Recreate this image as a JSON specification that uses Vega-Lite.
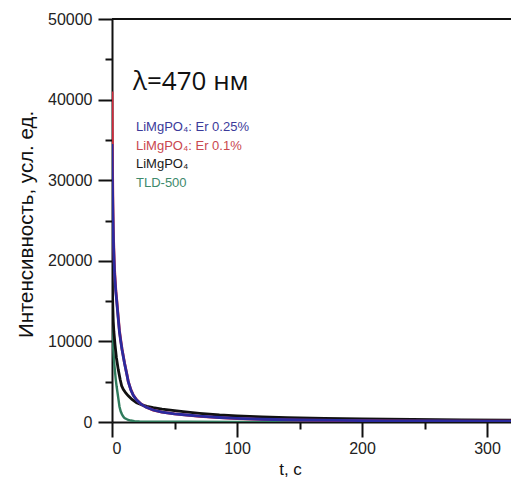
{
  "$schema": "https://vega.github.io/schema/vega-lite/v6.json",
  "autosize": {"type": "none"},
  "padding": {"left": 112, "top": 19, "right": 0, "bottom": 55},
  "width": 399,
  "height": 403,
  "background": "white",
  "config": {"view": {"stroke": null}, "font": "Liberation Sans"},
  "datasets": {
    "curves": [
      {"s": "er025", "t": 0, "v": 34500}, {"s": "er025", "t": 0.3, "v": 30000}, {"s": "er025", "t": 0.7, "v": 26000}, {"s": "er025", "t": 1.2, "v": 22000}, {"s": "er025", "t": 2, "v": 18500}, {"s": "er025", "t": 3, "v": 16200}, {"s": "er025", "t": 3.7, "v": 15100}, {"s": "er025", "t": 5, "v": 12800}, {"s": "er025", "t": 6, "v": 11100}, {"s": "er025", "t": 7, "v": 10000}, {"s": "er025", "t": 8, "v": 9000}, {"s": "er025", "t": 10, "v": 7300}, {"s": "er025", "t": 12, "v": 5800}, {"s": "er025", "t": 13, "v": 5000}, {"s": "er025", "t": 15, "v": 4000}, {"s": "er025", "t": 17, "v": 3300}, {"s": "er025", "t": 19.7, "v": 2730}, {"s": "er025", "t": 23, "v": 2250}, {"s": "er025", "t": 27, "v": 1850}, {"s": "er025", "t": 33, "v": 1490}, {"s": "er025", "t": 40, "v": 1230}, {"s": "er025", "t": 50, "v": 1020}, {"s": "er025", "t": 60, "v": 870}, {"s": "er025", "t": 70, "v": 720}, {"s": "er025", "t": 86, "v": 560}, {"s": "er025", "t": 100, "v": 450}, {"s": "er025", "t": 120, "v": 340}, {"s": "er025", "t": 150, "v": 250}, {"s": "er025", "t": 180, "v": 195}, {"s": "er025", "t": 220, "v": 150}, {"s": "er025", "t": 260, "v": 125}, {"s": "er025", "t": 300, "v": 105}, {"s": "er025", "t": 320, "v": 100},
      {"s": "er01", "t": 0, "v": 41000}, {"s": "er01", "t": 0.2, "v": 36000}, {"s": "er01", "t": 0.45, "v": 31000}, {"s": "er01", "t": 0.75, "v": 27000}, {"s": "er01", "t": 1.2, "v": 22800}, {"s": "er01", "t": 2, "v": 19000}, {"s": "er01", "t": 3, "v": 16500}, {"s": "er01", "t": 3.7, "v": 15300}, {"s": "er01", "t": 5, "v": 13000}, {"s": "er01", "t": 6, "v": 11300}, {"s": "er01", "t": 7, "v": 10150}, {"s": "er01", "t": 8, "v": 9100}, {"s": "er01", "t": 10, "v": 7350}, {"s": "er01", "t": 12, "v": 5850}, {"s": "er01", "t": 13, "v": 5050}, {"s": "er01", "t": 15, "v": 4050}, {"s": "er01", "t": 17, "v": 3330}, {"s": "er01", "t": 19.7, "v": 2750}, {"s": "er01", "t": 23, "v": 2260}, {"s": "er01", "t": 27, "v": 1850}, {"s": "er01", "t": 33, "v": 1480}, {"s": "er01", "t": 40, "v": 1220}, {"s": "er01", "t": 50, "v": 1000}, {"s": "er01", "t": 60, "v": 850}, {"s": "er01", "t": 70, "v": 700}, {"s": "er01", "t": 86, "v": 540}, {"s": "er01", "t": 100, "v": 430}, {"s": "er01", "t": 120, "v": 325}, {"s": "er01", "t": 150, "v": 240}, {"s": "er01", "t": 180, "v": 185}, {"s": "er01", "t": 220, "v": 140}, {"s": "er01", "t": 260, "v": 115}, {"s": "er01", "t": 300, "v": 95}, {"s": "er01", "t": 320, "v": 90},
      {"s": "pure", "t": 0, "v": 20500}, {"s": "pure", "t": 0.3, "v": 17000}, {"s": "pure", "t": 0.6, "v": 14500}, {"s": "pure", "t": 1, "v": 12500}, {"s": "pure", "t": 1.5, "v": 11200}, {"s": "pure", "t": 2.4, "v": 9600}, {"s": "pure", "t": 3.5, "v": 8000}, {"s": "pure", "t": 5, "v": 6500}, {"s": "pure", "t": 6.5, "v": 5300}, {"s": "pure", "t": 7.7, "v": 4500}, {"s": "pure", "t": 9, "v": 4050}, {"s": "pure", "t": 11, "v": 3600}, {"s": "pure", "t": 13, "v": 3250}, {"s": "pure", "t": 16, "v": 2800}, {"s": "pure", "t": 19.7, "v": 2400}, {"s": "pure", "t": 24, "v": 2120}, {"s": "pure", "t": 28, "v": 1950}, {"s": "pure", "t": 33, "v": 1790}, {"s": "pure", "t": 40, "v": 1600}, {"s": "pure", "t": 50, "v": 1410}, {"s": "pure", "t": 57, "v": 1280}, {"s": "pure", "t": 70, "v": 1080}, {"s": "pure", "t": 86, "v": 870}, {"s": "pure", "t": 100, "v": 760}, {"s": "pure", "t": 120, "v": 640}, {"s": "pure", "t": 140, "v": 550}, {"s": "pure", "t": 170, "v": 450}, {"s": "pure", "t": 200, "v": 370}, {"s": "pure", "t": 240, "v": 310}, {"s": "pure", "t": 280, "v": 260}, {"s": "pure", "t": 320, "v": 220},
      {"s": "tld", "t": 0, "v": 12500}, {"s": "tld", "t": 0.3, "v": 11000}, {"s": "tld", "t": 0.6, "v": 10000}, {"s": "tld", "t": 1, "v": 9000}, {"s": "tld", "t": 1.5, "v": 7900}, {"s": "tld", "t": 2, "v": 6900}, {"s": "tld", "t": 2.5, "v": 6100}, {"s": "tld", "t": 3, "v": 5300}, {"s": "tld", "t": 3.7, "v": 4400}, {"s": "tld", "t": 5, "v": 3000}, {"s": "tld", "t": 6, "v": 1900}, {"s": "tld", "t": 7, "v": 1300}, {"s": "tld", "t": 8, "v": 950}, {"s": "tld", "t": 9, "v": 680}, {"s": "tld", "t": 10, "v": 500}, {"s": "tld", "t": 11.5, "v": 370}, {"s": "tld", "t": 13, "v": 260}, {"s": "tld", "t": 15, "v": 180}, {"s": "tld", "t": 18, "v": 110}, {"s": "tld", "t": 22, "v": 70}, {"s": "tld", "t": 28, "v": 50}, {"s": "tld", "t": 40, "v": 35}, {"s": "tld", "t": 60, "v": 25}, {"s": "tld", "t": 100, "v": 20}, {"s": "tld", "t": 200, "v": 15}, {"s": "tld", "t": 320, "v": 10}
    ],
    "labels": [
      {"s": "er025", "t": 19.2, "v": 36600, "text": "LiMgPO₄: Er 0.25%"},
      {"s": "er01", "t": 19.2, "v": 34240, "text": "LiMgPO₄: Er 0.1%"},
      {"s": "pure", "t": 19.2, "v": 32010, "text": "LiMgPO₄"},
      {"s": "tld", "t": 19.2, "v": 29650, "text": "TLD-500"}
    ],
    "title": [
      {"t": 16.8, "v": 42180, "text": "λ=470 нм"}
    ],
    "frame": [
      {"v": 50000}
    ]
  },
  "layer": [
    {
      "data": {"name": "curves"},
      "transform": [{"filter": "datum.s === 'tld'"}],
      "mark": {"type": "line", "color": "#2f7b5c", "strokeWidth": 2.4, "clip": true},
      "encoding": {
        "x": {"field": "t", "type": "quantitative", "scale": {"domain": [0, 319.2], "nice": false},
          "axis": {"orient": "bottom", "values": [0, 50, 100, 150, 200, 250, 300],
            "labelExpr": "datum.value % 100 === 0 ? datum.label : ''",
            "tickSize": {"condition": {"test": "datum.value % 100 === 0", "value": 15}, "value": 7},
            "tickColor": "#111", "tickWidth": 2, "domainColor": "#111", "domainWidth": 2,
            "labelFontSize": 16, "labelColor": "#222", "labelPadding": 3, "grid": false,
            "title": "t, c", "titleFontSize": 17, "titleFontWeight": "normal", "titleColor": "#111",
            "titleX": 178, "titleY": 52, "titleBaseline": "alphabetic", "titleAlign": "center"}},
        "y": {"field": "v", "type": "quantitative", "scale": {"domain": [0, 50000], "nice": false},
          "axis": {"values": [0, 5000, 10000, 15000, 20000, 25000, 30000, 35000, 40000, 45000, 50000],
            "format": "d",
            "labelExpr": "datum.value % 10000 === 0 ? datum.label : ''",
            "tickSize": {"condition": {"test": "datum.value % 10000 === 0", "value": 14}, "value": 7},
            "tickColor": "#111", "tickWidth": 2, "domainColor": "#111", "domainWidth": 2,
            "labelFontSize": 16, "labelColor": "#222", "labelPadding": 6, "grid": false,
            "title": "Интенсивность, усл. ед.", "titleFontSize": 20.5, "titleFontWeight": "normal", "titleColor": "#111",
            "titleX": -86, "titleY": 205, "titleBaseline": "middle", "titleAngle": -90, "titleAlign": "center"}}
      }
    },
    {
      "data": {"name": "curves"},
      "transform": [{"filter": "datum.s === 'pure'"}],
      "mark": {"type": "line", "color": "#111111", "strokeWidth": 2.8, "clip": true},
      "encoding": {
        "x": {"field": "t", "type": "quantitative"},
        "y": {"field": "v", "type": "quantitative"}
      }
    },
    {
      "data": {"name": "curves"},
      "transform": [{"filter": "datum.s === 'er01'"}],
      "mark": {"type": "line", "color": "#d0283a", "strokeWidth": 2.8, "clip": true},
      "encoding": {
        "x": {"field": "t", "type": "quantitative"},
        "y": {"field": "v", "type": "quantitative"}
      }
    },
    {
      "data": {"name": "curves"},
      "transform": [{"filter": "datum.s === 'er025'"}],
      "mark": {"type": "line", "color": "#2b2a9e", "strokeWidth": 2.8, "clip": true},
      "encoding": {
        "x": {"field": "t", "type": "quantitative"},
        "y": {"field": "v", "type": "quantitative"}
      }
    },
    {
      "data": {"name": "frame"},
      "mark": {"type": "rule", "color": "#111", "strokeWidth": 2},
      "encoding": {
        "y": {"field": "v", "type": "quantitative"}
      }
    },
    {
      "data": {"name": "labels"},
      "mark": {"type": "text", "align": "left", "baseline": "middle", "fontSize": 13},
      "encoding": {
        "x": {"field": "t", "type": "quantitative"},
        "y": {"field": "v", "type": "quantitative"},
        "text": {"field": "text"},
        "color": {"field": "s", "type": "nominal", "legend": null,
          "scale": {"domain": ["er025", "er01", "pure", "tld"], "range": ["#3b3a9a", "#c9474f", "#1a1a1a", "#3e8a6c"]}}
      }
    },
    {
      "data": {"name": "title"},
      "mark": {"type": "text", "align": "left", "baseline": "middle", "fontSize": 26, "font": "Open Sans", "color": "#111"},
      "encoding": {
        "x": {"field": "t", "type": "quantitative"},
        "y": {"field": "v", "type": "quantitative"},
        "text": {"field": "text"}
      }
    }
  ]
}
